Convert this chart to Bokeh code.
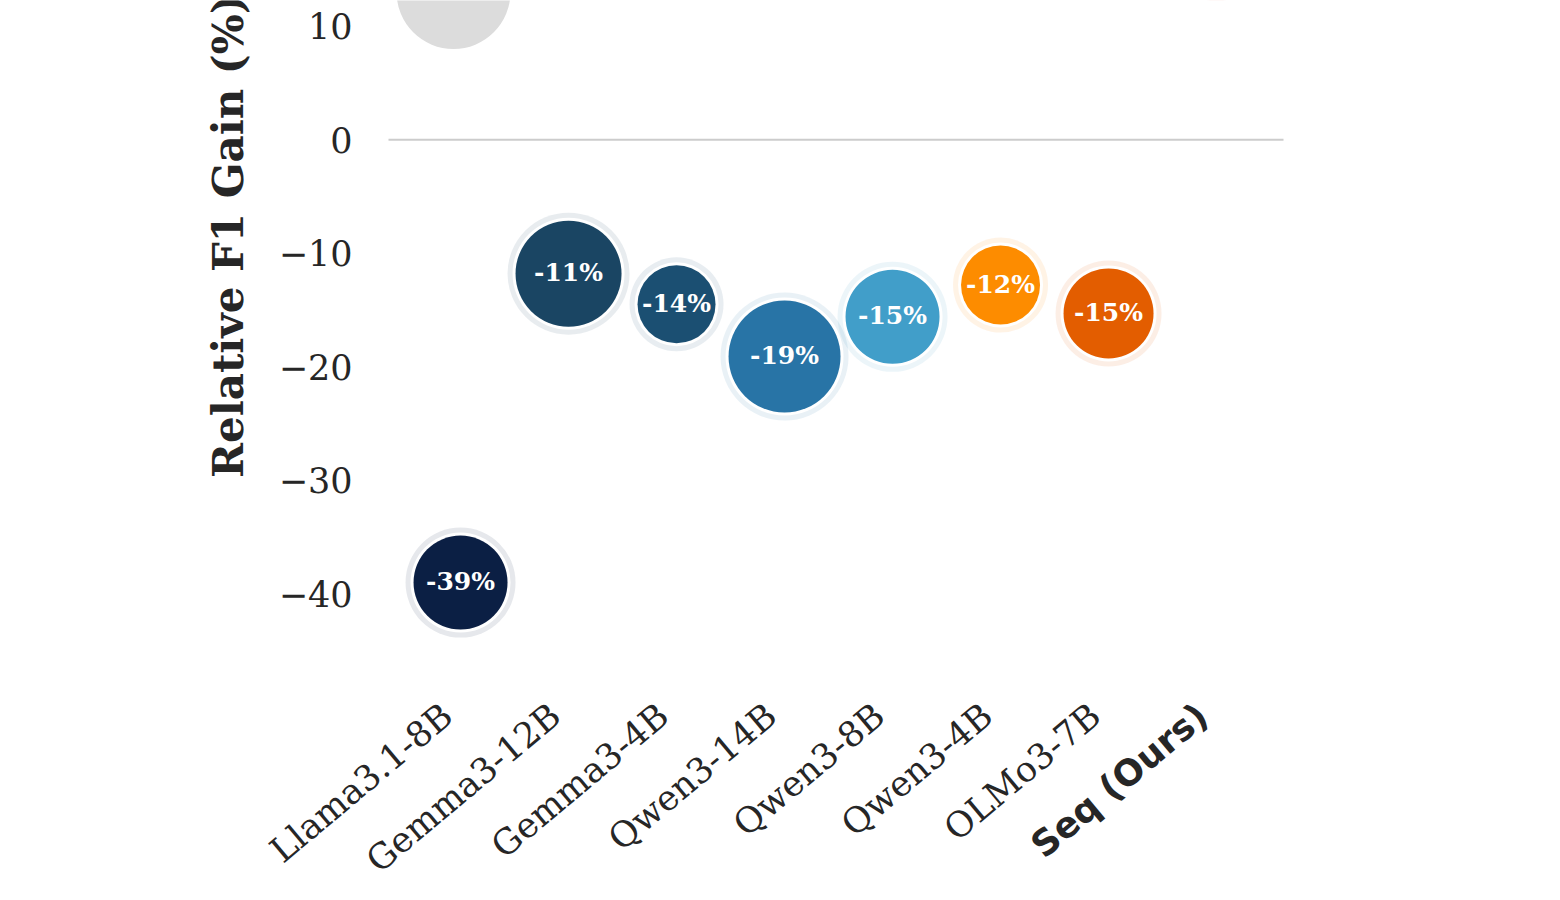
import math
from bokeh.plotting import figure
from bokeh.models import (ColumnDataSource, Range1d, FixedTicker, CustomJSTickFormatter,
                          LinearAxis)
from bokeh.core.properties import value
from bokeh.embed import file_html
from bokeh.resources import INLINE

# ---- data ----
categories = ["Llama3.1-8B", "Gemma3-12B", "Gemma3-4B", "Qwen3-14B",
              "Qwen3-8B", "Qwen3-4B", "OLMo3-7B", "Seq (Ours)"]
gain = [-39.0, -11.8, -14.5, -19.1, -15.6, -12.8, -15.3, 17.5]
gain_labels = ["-39%", "-11%", "-14%", "-19%", "-15%", "-12%", "-15%", ""]
bubble_r = [47, 53, 39, 56, 47, 39.5, 45, 52]
colors = ["#0b1f44", "#1a4563", "#1b4f72", "#2874a6", "#419ec9",
          "#fd8c00", "#e35d00", "#e74c3c"]
ref_pos = [-0.065]
ref_gain = [13.0]
ref_r = [57]
yticks = [-40, -30, -20, -10, 0, 10]
y_title = "Relative F1 Gain (%)"

# ---- layout constants ----
W, H = 1560, 900
LEFT, RIGHT = 388, 277            # original axes box, in pixels
X0, X1 = -0.667, 7.62             # original axes x limits
Y_BOTTOM, Y_TOP = -48.5, 12.25    # original axes y limits (top is cropped)
ROT = math.radians(40)

ppu_x = (W - LEFT - RIGHT) / (X1 - X0)
ppu_y = 690 / (Y_TOP - Y_BOTTOM)
xr = Range1d(X0 - LEFT / ppu_x, X1 + RIGHT / ppu_x)
yr = Range1d(Y_TOP - H / ppu_y, Y_TOP)

idx = list(range(len(categories)))
src = ColumnDataSource(dict(
    x=idx, y=gain, lab=gain_labels, color=colors,
    s_core=[2 * r for r in bubble_r],
    s_white=[2 * (r + 3) for r in bubble_r],
    s_halo=[2 * (r + 8) for r in bubble_r],
))
ref_src = ColumnDataSource(dict(x=ref_pos, y=ref_gain, s=[2 * r for r in ref_r]))

p = figure(width=W, height=H, output_backend="svg", toolbar_location=None,
           x_range=xr, y_range=yr, x_axis_location=None, y_axis_location=None,
           min_border_left=0, min_border_right=0, min_border_top=0,
           min_border_bottom=0)
p.outline_line_color = None
p.background_fill_color = "white"
p.border_fill_color = "white"
p.grid.visible = False

ya = LinearAxis(fixed_location=X0)
ya.ticker = FixedTicker(ticks=yticks)
ya.formatter = CustomJSTickFormatter(code="return tick < 0 ? '\u2212' + Math.abs(tick) : String(tick);")
ya.axis_line_color = None
ya.major_tick_line_color = None
ya.minor_tick_line_color = None
ya.major_label_standoff = 30
ya.major_label_text_font = "DejaVu Serif"
ya.major_label_text_font_size = "35px"
ya.major_label_text_color = "#262626"
p.add_layout(ya, "left")

# zero reference line across the original axes box
p.segment(x0=[X0], x1=[X1], y0=[0], y1=[0], line_color="#cccccc", line_width=2)

# y-axis title
p.text(x=[X0], y=[Y_TOP], text=[y_title], angle=math.pi / 2, x_offset=-160, y_offset=-6,
       text_align="right", text_baseline="middle",
       text_font=value("DejaVu Serif"), text_font_style="bold",
       text_font_size="42px", text_color="#262626")

# bubbles
p.scatter("x", "y", size="s", source=ref_src, marker="circle",
          fill_color="#dcdcdc", line_color=None)
p.scatter("x", "y", size="s_halo", source=src, marker="circle",
          fill_color="color", fill_alpha=0.1, line_color=None)
p.scatter("x", "y", size="s_white", source=src, marker="circle",
          fill_color="white", line_color=None)
p.scatter("x", "y", size="s_core", source=src, marker="circle",
          fill_color="color", line_color=None)
p.text("x", "y", text="lab", source=src, text_color="white",
       text_font=value("DejaVu Serif"), text_font_style="bold",
       text_font_size="25px", text_align="center", text_baseline="middle",
       y_offset=-1)

# category labels (hanging below the original axes box)
cat_src = ColumnDataSource(dict(x=idx[:-1], y=[Y_BOTTOM] * (len(idx) - 1),
                                name=categories[:-1]))
ours_src = ColumnDataSource(dict(x=idx[-1:], y=[Y_BOTTOM], name=categories[-1:]))
p.text("x", "y", text="name", source=cat_src, angle=ROT,
       text_align="right", text_baseline="middle", x_offset=-13, y_offset=20,
       text_font=value("DejaVu Serif"), text_font_size="35px", text_color="#262626")
p.text("x", "y", text="name", source=ours_src, angle=ROT,
       text_align="right", text_baseline="middle", x_offset=-14, y_offset=20,
       text_font=value("DejaVu Sans"), text_font_style="bold",
       text_font_size="36px", text_color="#262626")

open("out.html", "w").write(file_html(p, INLINE))
